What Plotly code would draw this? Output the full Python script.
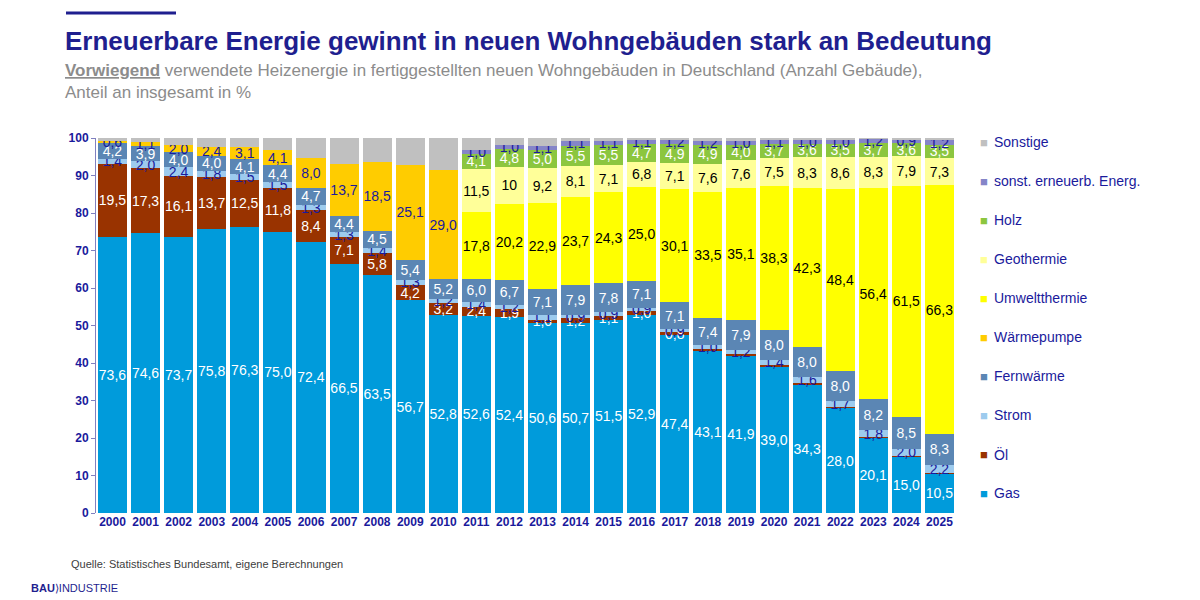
import plotly.graph_objects as go

years = [str(y) for y in range(2000, 2026)]

gas = [73.6, 74.6, 73.7, 75.8, 76.3, 75.0, 72.4, 66.5, 63.5, 56.7, 52.8, 52.6, 52.4, 50.6, 50.7, 51.5, 52.9,
       47.4, 43.1, 41.9, 39.0, 34.3, 28.0, 20.1, 15.0, 10.5]
oel = [19.5, 17.3, 16.1, 13.7, 12.5, 11.8, 8.4, 7.1, 5.8, 4.2, 3.2, 2.4, 1.9, 1.0, 1.2, 1.1, 1.0,
       0.8, 0.6, 0.5, 0.5, 0.4, 0.3, 0.2, 0.2, 0.1]
strom = [1.4, 2.0, 2.4, 1.8, 1.5, 1.5, 1.3, 1.3, 1.4, 1.3, 1.2, 1.4, 1.2, 1.1, 0.9, 0.9, 0.9,
         0.9, 1.0, 1.2, 1.4, 1.6, 1.7, 1.8, 2.0, 2.2]
fernwaerme = [4.2, 3.9, 4.0, 4.0, 4.1, 4.4, 4.7, 4.4, 4.5, 5.4, 5.2, 6.0, 6.7, 7.1, 7.9, 7.8, 7.1,
              7.1, 7.4, 7.9, 8.0, 8.0, 8.0, 8.2, 8.5, 8.3]
waermepumpe = [0.6, 1.1, 2.0, 2.4, 3.1, 4.1, 8.0, 13.7, 18.5, 25.1, 29.0] + [0] * 15
umweltthermie = [0] * 11 + [17.8, 20.2, 22.9, 23.7, 24.3, 25.0, 30.1, 33.5, 35.1, 38.3, 42.3, 48.4, 56.4, 61.5, 66.3]
geothermie = [0] * 11 + [11.5, 10, 9.2, 8.1, 7.1, 6.8, 7.1, 7.6, 7.6, 7.5, 8.3, 8.6, 8.3, 7.9, 7.3]
holz = [0] * 11 + [4.1, 4.8, 5.0, 5.5, 5.5, 4.7, 4.9, 4.9, 4.0, 3.7, 3.6, 3.5, 3.7, 3.6, 3.5]
sonst_ee = [0] * 11 + [1.0, 1.0, 1.1, 1.1, 1.1, 1.1, 1.2, 1.2, 1.0, 1.1, 1.0, 1.0, 1.2, 0.9, 1.2]
sonstige = [0.7, 1.1, 1.8, 2.3, 2.5, 3.2, 5.2, 7.0, 6.3, 7.3, 8.6, 3.2, 1.8, 2.0, 0.9, 0.7, 0.5,
            0.5, 0.6, 0.8, 0.5, 0.5, 0.5, 0.1, 0.4, 0.6]

NAVY = '#1a1a9c'
series = [
    ('Gas', gas, '#009bdb', 'white', True),
    ('Öl', oel, '#993300', 'white', True),
    ('Strom', strom, '#9dcbee', NAVY, True),
    ('Fernwärme', fernwaerme, '#5b86b4', 'white', True),
    ('Wärmepumpe', waermepumpe, '#ffcc00', NAVY, True),
    ('Umweltthermie', umweltthermie, '#ffff00', 'black', True),
    ('Geothermie', geothermie, '#ffff99', 'black', True),
    ('Holz', holz, '#8cc63f', 'white', True),
    ('sonst. erneuerb. Energ.', sonst_ee, '#8585c8', NAVY, True),
    ('Sonstige', sonstige, '#c0c0c0', NAVY, False),
]

def fmt(v, name):
    if not v or (name == 'Öl' and v < 0.8) or v < 0.5:
        return ''
    if name == 'Geothermie' and v == 10:
        return '10'
    return f'{v:.1f}'.replace('.', ',')

fig = go.Figure()
for name, vals, col, tcol, lab in series:
    fig.add_trace(go.Bar(
        x=years, y=vals, name=name, marker=dict(color=col, line=dict(width=0)),
        text=[fmt(v, name) if lab else '' for v in vals],
        textposition='inside', insidetextanchor='middle', textangle=0,
        textfont=dict(color=tcol, size=14, family='Arial'),
        showlegend=False,
    ))

# visible plot area in the screenshot (pixels)
PT, PB, PL, PW = 137, 512, 95, 860
H = PB - PT
for idx, (name, vals, col, tcol, lab) in enumerate(reversed(series)):
    y = 141 + idx * 39
    fig.add_annotation(xref='paper', yref='paper', x=(983 - PL) / PW, y=1 - (y - PT) / H,
                       text=f'<span style="color:{col}">■</span>', showarrow=False,
                       xanchor='center', yanchor='middle', font=dict(size=13))
    fig.add_annotation(xref='paper', yref='paper', x=(991 - PL) / PW, y=1 - (y - PT) / H,
                       text=name, showarrow=False, xanchor='left', yanchor='middle',
                       font=dict(size=14, color=NAVY, family='Arial'))

fig.add_annotation(xref='paper', yref='paper', x=-(PL - 62) / PW, y=1 + (PT - 40) / H,
                   text='<b>Erneuerbare Energie gewinnt in neuen Wohngebäuden stark an Bedeutung</b>',
                   showarrow=False, xanchor='left', yanchor='middle',
                   font=dict(size=26, color='#1f1f8f', family='Arial'))
fig.add_annotation(xref='paper', yref='paper', x=-(PL - 62) / PW, y=1 + (PT - 80) / H,
                   text='<b><u>Vorwiegend</u></b> verwendete Heizenergie in fertiggestellten neuen Wohngebäuden in Deutschland (Anzahl Gebäude),<br>Anteil an insgesamt in %',
                   showarrow=False, xanchor='left', yanchor='middle', align='left',
                   font=dict(size=17, color='#8c8c8c', family='Arial'))
fig.add_annotation(xref='paper', yref='paper', x=-(PL - 68) / PW, y=-(563 - PB) / H,
                   text='Quelle: Statistisches Bundesamt, eigene Berechnungen', showarrow=False,
                   xanchor='left', yanchor='middle', font=dict(size=11, color='#404040', family='Arial'))
fig.add_annotation(xref='paper', yref='paper', x=-(PL - 28) / PW, y=-(587 - PB) / H,
                   text='<b>BAU</b>⟩INDUSTRIE', showarrow=False,
                   xanchor='left', yanchor='middle', font=dict(size=11, color='#1f1f8f', family='Arial'))
fig.add_shape(type='line', xref='paper', yref='paper', x0=-(PL - 65) / PW, x1=(175 - PL) / PW,
              y0=1 + (PT - 12) / H, y1=1 + (PT - 12) / H, line=dict(color='#1f1f8f', width=3))

fig.update_layout(
    barmode='stack', bargap=0.12,
    width=1200, height=600,
    margin=dict(l=88, r=252, t=130, b=95),
    paper_bgcolor='white', plot_bgcolor='white',
    uniformtext=dict(minsize=14, mode='show'),
    xaxis=dict(tickfont=dict(size=12, color=NAVY, family='Arial'), showline=False, ticks='',
               tickprefix='<b>', ticksuffix='</b>'),
    yaxis=dict(range=[0, 100], dtick=10, showgrid=False, showline=True, linecolor='#8080c0',
               ticks='outside', ticklen=4, tickcolor='#8080c0', tickprefix='<b>', ticksuffix='</b>',
               tickfont=dict(size=12, color=NAVY, family='Arial')),
    font=dict(family='Arial'),
)

fig.write_html('out.html')
